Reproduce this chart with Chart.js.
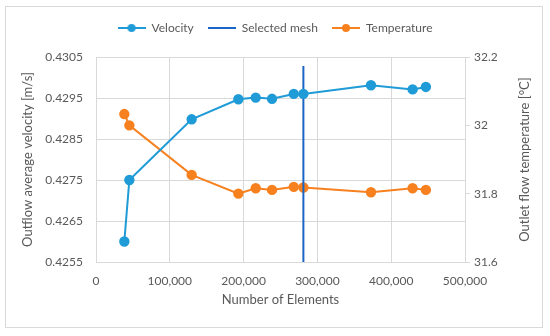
<!DOCTYPE html>
<html>
<head>
<meta charset="utf-8">
<script src="https://cdn.jsdelivr.net/npm/chart.js@4"></script>
<style>
  html, body { margin: 0; padding: 0; background: #fff; }
  #wrap { position: relative; width: 550px; height: 336px; }
</style>
</head>
<body>
<div id="wrap"><canvas id="myChart" width="550" height="336"></canvas></div>
<script>
// data
var elements = [38400, 45200, 129600, 192900, 216400, 238500, 268000, 281000, 372600, 429000, 447000];
var velocity = [0.42600, 0.42750, 0.42898, 0.42947, 0.42951, 0.42948, 0.42960, 0.42960, 0.42981, 0.42971, 0.42977];
var temperature = [32.033, 32.000, 31.855, 31.800, 31.816, 31.811, 31.820, 31.818, 31.804, 31.816, 31.811];
var selectedMesh = [281000, 281000];
var selectedRange = [0.4255, 0.43028];

var xTicks = [0, 100000, 200000, 300000, 400000, 500000];
var velTicks = [0.4255, 0.4265, 0.4275, 0.4285, 0.4295, 0.4305];
var tempTicks = [31.6, 31.8, 32, 32.2];

var blue = '#1F9BD7';
var darkBlue = '#1A66C4';
var orange = '#F7811F';
var textColor = '#595959';
var gridColor = '#D9D9D9';
var font = "Lato, 'Open Sans', sans-serif";

function pairs(xs, ys) {
    return xs.map(function (x, i) { return { x: x, y: ys[i] }; });
}

// little legend icons: line with an optional marker
function legendIcon(color, marker) {
    var c = document.createElement('canvas');
    c.width = 28; c.height = 10;
    var g = c.getContext('2d');
    g.strokeStyle = color;
    g.lineWidth = 2;
    g.beginPath();
    g.moveTo(0, 5); g.lineTo(28, 5);
    g.stroke();
    if (marker) {
        g.fillStyle = color;
        g.beginPath();
        g.arc(14, 5, 4, 0, Math.PI * 2);
        g.fill();
    }
    return c;
}
var icons = [legendIcon(blue, true), legendIcon(darkBlue, false), legendIcon(orange, true)];

// border round the chart, extra gap under the legend, right axis title read bottom-up
var frame = {
    id: 'frame',
    afterInit: function (chart) {
        var legend = chart.legend;
        var fit = legend.fit;
        legend.fit = function () {
            fit.call(this);
            this.height += 13;
        };
    },
    beforeDraw: function (chart) {
        var ctx = chart.ctx;
        ctx.save();
        ctx.fillStyle = '#fff';
        ctx.fillRect(0, 0, chart.width, chart.height);
        ctx.strokeStyle = gridColor;
        ctx.lineWidth = 1;
        ctx.strokeRect(5.5, 6.5, 537, 321);
        ctx.restore();
    },
    afterDraw: function (chart) {
        var ctx = chart.ctx;
        var area = chart.chartArea;
        ctx.save();
        ctx.translate(525, (area.top + area.bottom) / 2);
        ctx.rotate(-Math.PI / 2);
        ctx.fillStyle = textColor;
        ctx.font = '13px ' + font;
        ctx.textAlign = 'center';
        ctx.textBaseline = 'middle';
        ctx.fillText('Outlet flow temperature [°C]', 0, 0);
        ctx.restore();
    }
};

var ctx = document.getElementById('myChart').getContext('2d');
var myChart = new Chart(ctx, {
    type: 'line',
    data: {
        datasets: [{
            label: 'Velocity',
            data: pairs(elements, velocity),
            borderColor: blue,
            backgroundColor: blue,
            borderWidth: 2,
            pointRadius: 4.2,
            pointHoverRadius: 4.2,
            yAxisID: 'y'
        }, {
            label: 'Selected mesh',
            data: pairs(selectedMesh, selectedRange),
            borderColor: darkBlue,
            backgroundColor: darkBlue,
            borderWidth: 2,
            pointRadius: 0,
            yAxisID: 'y'
        }, {
            label: 'Temperature',
            data: pairs(elements, temperature),
            borderColor: orange,
            backgroundColor: orange,
            borderWidth: 2,
            pointRadius: 4.2,
            pointHoverRadius: 4.2,
            yAxisID: 'y2'
        }]
    },
    options: {
        responsive: false,
        animation: false,
        layout: { padding: { top: 8, left: 0, right: 0, bottom: 0 } },
        plugins: {
            tooltip: { enabled: false },
            legend: {
                position: 'top',
                labels: {
                    usePointStyle: true,
                    pointStyleWidth: 28,
                    padding: 14,
                    color: textColor,
                    font: { family: font, size: 12 },
                    generateLabels: function (chart) {
                        return chart.data.datasets.map(function (ds, i) {
                            return {
                                text: ds.label,
                                pointStyle: icons[i],
                                fillStyle: ds.borderColor,
                                strokeStyle: ds.borderColor,
                                fontColor: textColor,
                                lineWidth: 0,
                                hidden: false,
                                datasetIndex: i
                            };
                        });
                    }
                }
            }
        },
        scales: {
            x: {
                type: 'linear',
                min: 0,
                max: 500000,
                afterFit: function (s) { s.height = 74; },
                afterBuildTicks: function (s) { s.ticks = xTicks.map(function (v) { return { value: v }; }); },
                ticks: {
                    color: textColor,
                    padding: 12,
                    font: { family: font, size: 12 },
                    callback: function (v) { return v.toLocaleString('en-US'); }
                },
                grid: { color: gridColor, drawTicks: false },
                border: { color: gridColor },
                title: {
                    display: true,
                    text: 'Number of Elements',
                    color: textColor,
                    font: { family: font, size: 13 },
                    padding: { top: 0, bottom: 28 }
                }
            },
            y: {
                type: 'linear',
                position: 'left',
                min: 0.4255,
                max: 0.4305,
                afterFit: function (s) { s.width = 96; },
                afterBuildTicks: function (s) { s.ticks = velTicks.map(function (v) { return { value: v }; }); },
                ticks: {
                    color: textColor,
                    padding: 13,
                    font: { family: font, size: 12 },
                    callback: function (v) { return v.toFixed(4); }
                },
                grid: { color: gridColor, drawTicks: false },
                border: { color: gridColor },
                title: {
                    display: true,
                    text: 'Outflow average velocity [m/s]',
                    color: textColor,
                    font: { family: font, size: 13 },
                    padding: { top: 20, bottom: 0 }
                }
            },
            y2: {
                type: 'linear',
                position: 'right',
                min: 31.6,
                max: 32.2,
                afterFit: function (s) { s.width = 85; },
                afterBuildTicks: function (s) { s.ticks = tempTicks.map(function (v) { return { value: v }; }); },
                ticks: {
                    color: textColor,
                    padding: 4,
                    font: { family: font, size: 12 },
                    callback: function (v) { return String(Math.round(v * 10) / 10); }
                },
                grid: { color: gridColor, drawOnChartArea: false, tickLength: 5 },
                border: { color: gridColor }
            }
        }
    },
    plugins: [frame]
});
</script>
</body>
</html>
